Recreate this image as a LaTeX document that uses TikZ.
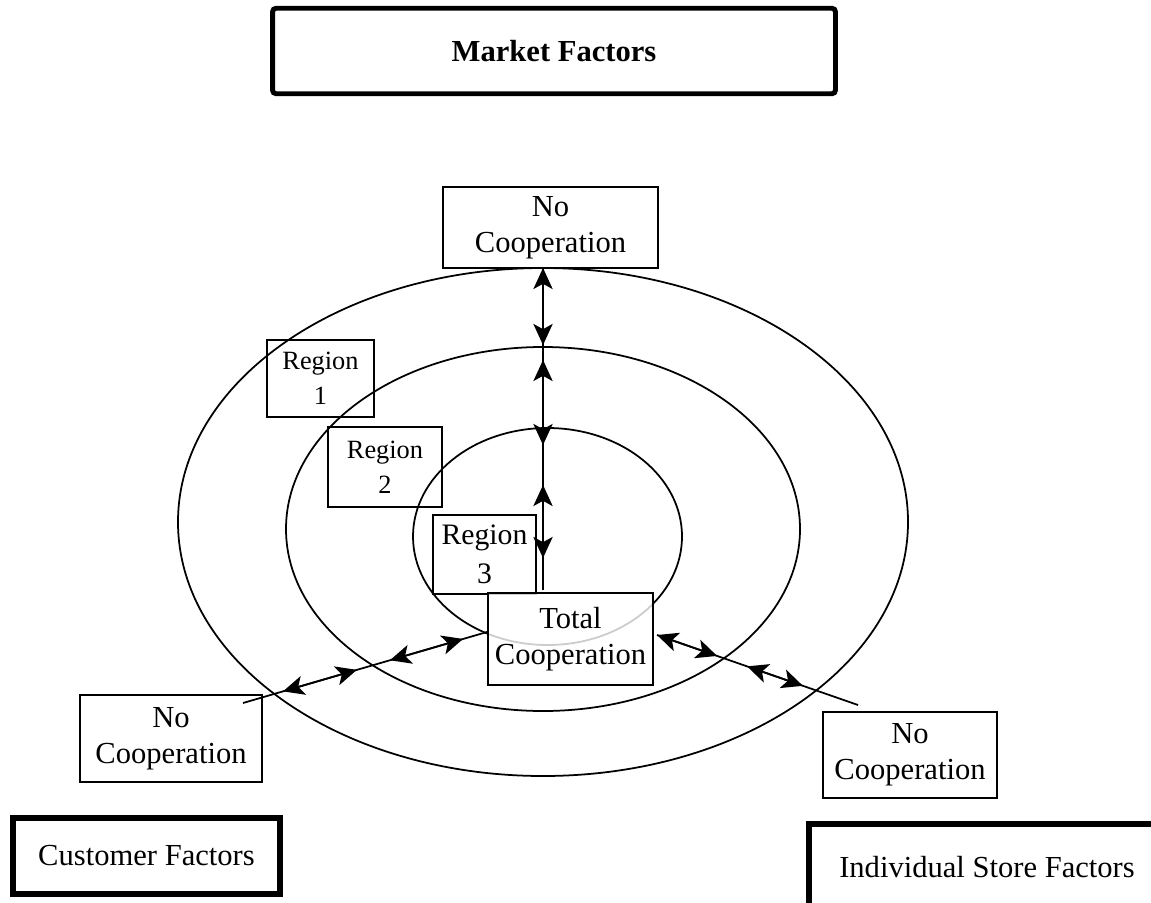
\documentclass[tikz,border=0pt]{standalone}
\usepackage{fontspec}
\setmainfont{Liberation Serif}
\usetikzlibrary{arrows.meta,calc}

\tikzset{
    twoway/.style={line width=1pt,{Stealth[length=12pt,width=11pt,inset=3pt]}-{Stealth[length=12pt,width=11pt,inset=3pt]}},
    coopbox/.style={draw,line width=1pt,align=center,inner sep=0pt,font=\fontsize{17.4}{20.5}\selectfont},
    regionbox/.style={draw,line width=1pt,align=center,inner sep=0pt,font=\fontsize{15}{19.8}\selectfont},
    factorbox/.style={draw,line width=3.4pt,align=center,inner sep=0pt,font=\fontsize{17.4}{20.5}\selectfont}
}

\begin{document}
\begin{tikzpicture}[
        x=0.02cm, y=-0.02cm,
        line width=1pt
    ]
        \clip (0,0) rectangle (1151,902);
        \fill [white] (0,0) rectangle (1151,902);

        % rings
        \draw (543,522) ellipse [x radius=365, y radius=254];
        \draw (543,529) ellipse [x radius=257, y radius=182];
        \draw (547.5,536.5) ellipse [x radius=134.5, y radius=108.5];

        % factor boxes
        \node[factorbox,line width=2.8pt,rounded corners=2pt,minimum width=11.26cm,minimum height=1.71cm,font=\fontsize{17.4}{20.5}\selectfont\bfseries] (market) at (554,51) {Market Factors};
        \node[factorbox,minimum width=5.34cm,minimum height=1.52cm] (customer) at (146.5,856) {Customer Factors};
        \node[factorbox,minimum width=7.12cm,minimum height=1.72cm] (store) at (987,867) {Individual Store Factors};

        % region labels
        \node[regionbox,minimum width=2.14cm,minimum height=1.54cm] (reg1) at (320.5,378.5) {Region\\1};
        \node[regionbox,minimum width=2.28cm,minimum height=1.6cm] (reg2) at (385,467) {Region\\2};
        \node[regionbox,minimum width=2.06cm,minimum height=1.58cm,font=\fontsize{16.9}{22}\selectfont] (reg3) at (484.5,554.5) {Region\\3};

        % cooperation levels
        \node[coopbox,minimum width=4.3cm,minimum height=1.62cm] (nocooptop) at (550.5,227.5) {No\\Cooperation};
        \node[coopbox,fill=white,fill opacity=0.8,text opacity=1,minimum width=3.3cm,minimum height=1.84cm] (total) at (570.5,639) {Total\\Cooperation};
        \node[coopbox,minimum width=3.64cm,minimum height=1.74cm] (nocoopleft) at (171,738.5) {No\\Cooperation};
        \node[coopbox,minimum width=3.48cm,minimum height=1.72cm] (nocoopright) at (910,755) {No\\Cooperation};

        % vertical axis
        \coordinate (va) at (543,268);
        \coordinate (vb) at (543,590);
        \draw (va) -- (vb);
        \draw[twoway] (va) -- (543,345);
        \draw[twoway] (543,360) -- (543,445);
        \draw[twoway] (543,485) -- (543,558);

        % towards customer
        \coordinate (la) at (243,703);
        \coordinate (lb) at (487,632);
        \draw (la) -- (lb);
        \draw[twoway] ($(la)!0.164!(lb)$) -- ($(la)!0.467!(lb)$);
        \draw[twoway] ($(la)!0.602!(lb)$) -- ($(la)!0.902!(lb)$);

        % towards store
        \coordinate (ra) at (657,635);
        \coordinate (rb) at (858,705);
        \draw (ra) -- (rb);
        \draw[twoway] (ra) -- ($(ra)!0.299!(rb)$);
        \draw[twoway] ($(ra)!0.448!(rb)$) -- ($(ra)!0.726!(rb)$);
    \end{tikzpicture}
\end{document}
